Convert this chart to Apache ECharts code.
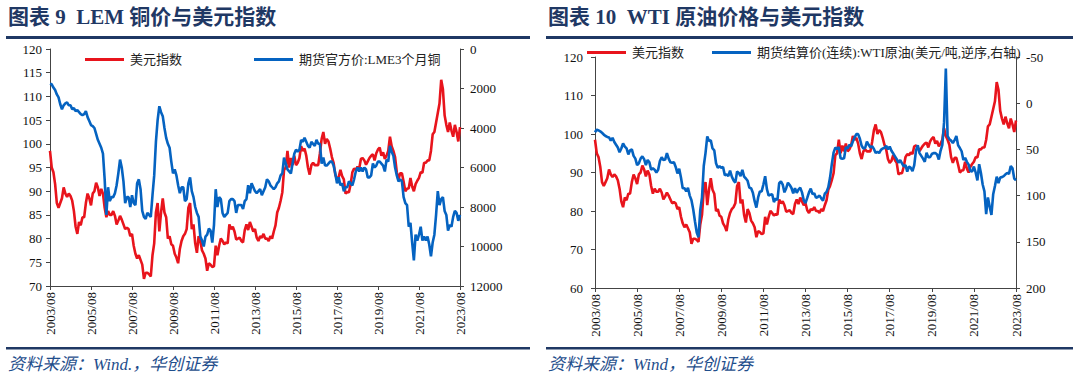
<!DOCTYPE html>
<html><head><meta charset="utf-8">
<script src="https://cdn.jsdelivr.net/npm/echarts@6/dist/echarts.min.js"></script>
<style>
html,body{margin:0;padding:0;background:#fff;width:1080px;height:385px;overflow:hidden}
#c1{position:absolute;left:0;top:0;width:540px;height:385px}
#c2{position:absolute;left:540px;top:0;width:540px;height:385px}
</style></head><body>
<div id="c1"></div><div id="c2"></div>
<script>
// categories: monthly, 2003/08 .. 2023/08
const months = [];
for (let y = 2003, m = 8; y < 2023 || (y === 2023 && m <= 8); ) {
  months.push(y + '/' + (m < 10 ? '0' + m : m));
  m++; if (m > 12) { m = 1; y++; }
}
// US dollar index
const dxy = [
 98.5,95.0,94.0,91.5,87.5,
 86.5,87.5,88.5,90.8,89.5,88.8,89.5,89.0,88.0,85.8,82.5,81.0,
 83.5,82.8,84.5,84.5,87.5,89.5,88.5,87.0,89.5,90.0,91.8,90.8,
 89.0,90.5,89.5,86.5,84.5,85.8,85.0,85.0,85.8,84.8,83.0,83.8,
 84.8,84.0,83.0,82.0,82.3,82.0,80.5,81.0,78.5,76.8,75.8,76.5,
 75.5,74.5,71.5,72.8,72.8,72.5,72.0,76.5,79.0,85.5,87.5,81.5,
 85.5,88.5,85.5,84.5,80.0,80.5,78.8,78.5,76.8,76.0,74.8,77.8,
 79.5,80.5,81.0,82.0,86.5,87.5,82.0,83.0,79.0,77.0,80.5,79.5,
 77.5,76.8,75.8,73.2,74.8,74.5,74.0,74.2,78.5,76.5,78.5,80.0,
 79.5,78.8,79.2,79.0,83.0,82.0,82.5,81.5,79.8,80.0,80.2,79.5,
 79.2,81.8,83.0,81.8,83.5,82.5,81.5,82.0,80.2,79.5,80.5,80.2,
 81.0,80.0,80.0,79.5,80.5,80.0,81.5,82.8,85.5,86.5,88.0,89.8,
 94.5,95.0,98.5,95.0,97.0,95.5,97.5,95.5,96.0,97.0,99.5,98.5,
 99.0,97.5,95.0,93.5,95.5,96.0,95.5,95.5,95.5,98.0,101.0,102.5,
 100.0,101.0,100.5,99.0,97.2,96.0,93.5,92.5,93.0,94.5,93.2,92.5,
 89.5,89.8,89.8,91.5,94.0,94.8,94.5,95.2,94.8,96.8,97.0,96.5,
 95.6,96.3,97.0,97.5,97.8,96.5,98.0,98.8,99.2,97.5,98.2,96.8,
 97.5,98.5,101.5,99.5,98.5,97.2,94.0,92.5,93.8,93.8,92.0,90.0,
 90.5,90.6,92.8,91.0,90.0,91.5,92.2,92.8,94.0,93.9,96.0,96.0,
 96.5,96.5,98.5,102.0,102.5,104.5,106.5,108.5,113.5,111.5,106.0,104.0,
 102.5,104.5,102.8,101.5,104.0,102.5,100.5,103.5
];
// LME 3-month copper, USD/t
const copper = [
 1760,1790,1950,2080,2300,
 2450,2800,3050,2850,2750,2700,2850,2850,3050,3000,3150,3100,
 3200,3300,3350,3300,3150,3450,3650,3850,3900,4000,4300,4600,
 4800,5000,5300,6600,8400,7000,7700,7500,7500,7300,6900,6300,
 5600,6000,6700,7800,7500,7500,8000,7400,7800,7900,6800,6600,
 7100,8200,8500,8600,8300,8400,8500,7400,6400,4700,3600,2900,
 3200,3400,4000,4500,4800,5000,5700,6300,6100,6400,6900,7300,
 7000,7000,7700,7600,6800,6500,7200,7500,8000,8300,8500,9500,
 9700,10000,9500,9400,9100,9200,9800,8900,7100,8000,7500,7600,
 8300,8500,8400,8300,7700,7600,7600,7700,8300,7900,7900,7900,
 8100,7700,7600,6900,7300,6800,7000,7200,7300,7200,7100,7400,
 7200,7000,6600,6700,6900,7000,7100,7000,6800,6700,6400,6300,
 5500,5800,6100,6200,6300,5800,5300,5100,5200,5100,4600,4700,
 4500,4700,4900,5000,4700,4800,4900,4600,4800,4800,5800,5500,
 5900,5900,5800,5700,5700,5900,6300,6800,6500,6900,6800,7200,
 7000,7000,6700,6800,6900,6600,6200,6000,6200,6000,6200,6000,
 6100,6500,6500,6400,5800,6000,5900,5700,5700,5800,5900,6200,
 5600,5700,4900,5200,5400,6000,6400,6700,6600,6700,7500,7800,
 7900,9000,8800,9800,10700,9400,9700,9400,9000,9700,9500,9700,
 9500,9900,10500,9800,9400,8400,7200,7900,7600,7500,8200,8400,
 9200,8900,9000,8500,8200,8300,8700,8400
];
// WTI crude settlement (continuous), USD
const wti = [
 31.5,28.5,29.5,30.5,32.0,
 34.0,35.5,36.5,37.0,40.5,37.5,42.0,45.0,48.0,53.0,49.0,43.5,
 47.0,49.0,55.5,51.0,50.0,57.0,60.0,67.0,65.0,60.0,57.5,60.5,
 67.0,61.5,64.0,72.0,70.5,72.0,75.0,72.0,62.5,58.5,61.5,61.0,
 54.0,60.0,64.0,64.5,64.0,69.0,76.0,71.0,80.5,92.0,92.0,95.5,
 91.5,100.0,105.0,115.0,128.0,140.0,145.0,116.0,102.0,68.0,54.0,36.0,
 41.0,40.0,49.0,51.0,65.0,70.0,68.0,70.0,69.0,78.0,77.0,79.0,
 73.0,79.5,83.5,86.0,74.0,75.5,79.0,72.0,79.5,81.5,84.0,91.5,
 92.0,97.0,106.0,113.0,102.0,95.5,95.5,88.0,79.0,93.0,100.0,99.0,
 98.5,107.0,103.0,105.0,86.5,84.5,88.0,96.5,92.0,86.0,88.5,91.8,
 97.5,92.0,97.0,93.5,91.5,96.5,105.0,108.0,102.5,96.5,92.5,98.5,
 97.5,102.5,101.5,100.0,103.0,105.5,98.0,96.0,91.0,80.5,66.0,53.5,
 48.0,49.5,47.5,59.5,60.0,59.5,47.5,49.0,45.0,46.5,41.5,37.0,
 33.5,33.5,38.5,46.0,49.0,48.5,41.5,45.0,48.0,46.5,49.5,54.0,
 52.5,54.0,50.5,49.0,48.5,46.0,50.0,47.0,51.5,54.5,57.5,60.5,
 64.5,61.5,65.0,68.5,67.0,74.0,68.5,70.0,73.5,67.0,51.0,45.5,
 54.0,57.0,60.0,63.5,53.5,58.5,58.5,55.0,54.0,54.0,55.5,61.0,
 51.5,45.0,20.5,-37.5,35.5,39.0,40.5,43.0,40.0,35.5,45.5,48.5,
 52.0,61.5,59.0,63.5,66.5,73.5,74.0,68.5,75.0,83.5,66.0,75.5,
 88.0,95.5,120.0,102.0,112.0,121.0,98.5,89.5,79.5,86.5,80.5,80.0,
 79.0,77.0,75.5,76.5,68.0,70.5,81.5,83.5
];
const RED = '#E8141C', BLUE = '#0563C1', NAVY = '#1F3864';
const SERIF = '"Liberation Serif","Noto Sans CJK SC",serif';
const axisCol = '#444';

function xAxisCfg() {
  return {
    type: 'category', data: months, boundaryGap: false,
    axisLine: { onZero: false, lineStyle: { color: axisCol, width: 1 } },
    axisTick: { interval: 23, length: 4, lineStyle: { color: axisCol } },
    axisLabel: { interval: 23, rotate: 90, margin: 6, color: '#111', fontFamily: SERIF, fontSize: 13 },
    splitLine: { show: false }
  };
}
function yAxisCfg(min, max, interval, pos, inverse, margin) {
  return {
    type: 'value', min, max, interval, position: pos, inverse,
    axisLine: { show: true, onZero: false, lineStyle: { color: axisCol, width: 1 } },
    axisTick: { show: true, length: 4, lineStyle: { color: axisCol } },
    axisLabel: { color: '#111', fontFamily: SERIF, fontSize: 13, margin, formatter: v => String(v) },
    splitLine: { show: false }
  };
}
function frame(title, source, lineW) {
  return [
    { type: 'text', left: 8, top: 6, style: { text: title, fill: NAVY, font: 'bold 21px ' + SERIF } },
    { type: 'rect', shape: { x: 6, y: 36, width: lineW, height: 3 }, style: { fill: NAVY } },
    { type: 'rect', shape: { x: 6, y: 347, width: lineW, height: 2.5 }, style: { fill: NAVY } },
    { type: 'text', left: 8, top: 356, style: { text: source, fill: '#1F4E8C', font: 'italic 17px ' + SERIF } }
  ];
}
function lineSeries(name, data, color, yIdx) {
  return { name, type: 'line', data, yAxisIndex: yIdx, showSymbol: false, symbol: 'none',
    lineStyle: { color, width: 2.6 }, itemStyle: { color }, animation: false };
}
const legendCfg = (left, top, gap) => ({
  left, top, itemWidth: 39, itemHeight: 3, icon: 'rect', itemGap: gap,
  textStyle: { fontFamily: SERIF, fontSize: 13, color: '#222', padding: [0, 0, 0, 1] }
});

const c1 = echarts.init(document.getElementById('c1'), null, { renderer: 'svg' });
c1.setOption({
  animation: false,
  graphic: frame('图表 9  LEM 铜价与美元指数', '资料来源：Wind.，华创证券', 524),
  legend: Object.assign(legendCfg(80, 48, 72), { data: ['美元指数', '期货官方价:LME3个月铜'] }),
  grid: { left: 50, right: 80, top: 49, bottom: 99 },
  xAxis: xAxisCfg(),
  yAxis: [yAxisCfg(70, 120, 5, 'left', false, 8), yAxisCfg(0, 12000, 2000, 'right', true, 10)],
  series: [lineSeries('美元指数', dxy, RED, 0), lineSeries('期货官方价:LME3个月铜', copper, BLUE, 1)]
});

const c2 = echarts.init(document.getElementById('c2'), null, { renderer: 'svg' });
c2.setOption({
  animation: false,
  graphic: frame('图表 10  WTI 原油价格与美元指数', '资料来源：Wind，华创证券', 527),
  legend: Object.assign(legendCfg(42, 41, 28), { data: ['美元指数', '期货结算价(连续):WTI原油(美元/吨,逆序,右轴)'] }),
  grid: { left: 55, right: 64, top: 57, bottom: 97 },
  xAxis: xAxisCfg(),
  yAxis: [yAxisCfg(60, 120, 10, 'left', false, 12), yAxisCfg(-50, 200, 50, 'right', true, 10)],
  series: [lineSeries('美元指数', dxy, RED, 0), lineSeries('期货结算价(连续):WTI原油(美元/吨,逆序,右轴)', wti, BLUE, 1)]
});
</script>
</body></html>
